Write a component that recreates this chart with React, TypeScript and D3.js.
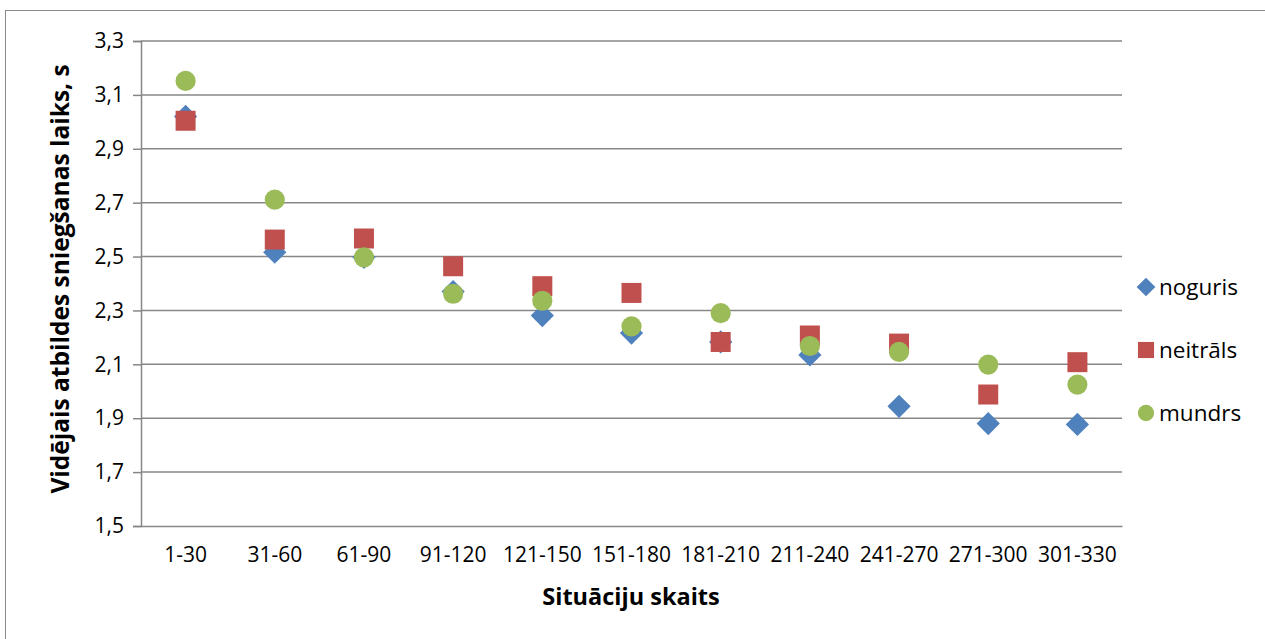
import * as d3 from 'd3';
import { useEffect, useRef } from 'react';

const categories = ['1-30', '31-60', '61-90', '91-120', '121-150', '151-180', '181-210', '211-240', '241-270', '271-300', '301-330'];
const noguris = [3.02, 2.516, 2.497, 2.37, 2.281, 2.216, 2.183, 2.135, 1.944, 1.88, 1.877];
const neitrals = [3.004, 2.563, 2.567, 2.464, 2.39, 2.365, 2.183, 2.207, 2.177, 1.988, 2.108];
const mundrs = [3.152, 2.711, 2.497, 2.362, 2.336, 2.241, 2.29, 2.168, 2.146, 2.099, 2.025];
const yTicks = [1.5, 1.7, 1.9, 2.1, 2.3, 2.5, 2.7, 2.9, 3.1, 3.3];

const series = [
  { name: 'noguris', values: noguris, color: '#4F81BD', shape: 'diamond' },
  { name: 'neitrāls', values: neitrals, color: '#C0504D', shape: 'square' },
  { name: 'mundrs', values: mundrs, color: '#9BBB59', shape: 'circle' },
];

const FONT = "'Open Sans', 'Noto Sans', sans-serif";

export default function App() {
  const ref = useRef<SVGSVGElement>(null);

  useEffect(() => {
    if (!ref.current) return;
    const width = 1265;
    const height = 639;
    const margin = { top: 41, right: 143, bottom: 113, left: 141 };

    const svg = d3.select(ref.current);
    svg.selectAll('*').remove();

    svg.append('rect')
      .attr('width', width).attr('height', height).attr('fill', '#fff');

    // outer chart frame
    svg.append('rect')
      .attr('x', 5.5).attr('y', 10.5)
      .attr('width', 1300).attr('height', 700)
      .attr('fill', 'none').attr('stroke', '#898989').attr('stroke-width', 1);

    const x = d3.scaleBand()
      .domain(categories)
      .range([margin.left, width - margin.right]);

    const y = d3.scaleLinear()
      .domain([1.5, 3.3])
      .range([height - margin.bottom, margin.top]);

    // gridlines
    svg.append('g')
      .selectAll('line')
      .data(yTicks.slice(1))
      .join('line')
      .attr('x1', margin.left)
      .attr('x2', width - margin.right)
      .attr('y1', d => y(d))
      .attr('y2', d => y(d))
      .attr('stroke', '#878787')
      .attr('stroke-width', 1.5);

    // y axis
    const yAxis = svg.append('g')
      .attr('transform', `translate(${margin.left},0)`)
      .call(d3.axisLeft(y).tickValues(yTicks).tickSize(8).tickPadding(9)
        .tickFormat(d => d3.format('.1f')(d as number).replace('.', ',')));
    yAxis.select('.domain').attr('stroke', '#878787').attr('stroke-width', 1.5);
    yAxis.selectAll('.tick line').attr('stroke', '#878787').attr('stroke-width', 1.5);
    yAxis.selectAll('text')
      .attr('font-family', FONT).attr('font-size', 21).attr('fill', '#000');

    // x axis
    const xAxis = svg.append('g')
      .attr('transform', `translate(0,${y(1.5)})`)
      .call(d3.axisBottom(x).tickSize(0).tickPadding(21));
    xAxis.select('.domain').attr('stroke', '#878787').attr('stroke-width', 1.5);
    xAxis.selectAll('text')
      .attr('font-family', FONT).attr('font-size', 21).attr('fill', '#000');

    // axis titles
    svg.append('text')
      .attr('transform', `translate(69,279) rotate(-90)`)
      .attr('text-anchor', 'middle')
      .attr('font-family', FONT).attr('font-size', 24.5).attr('font-weight', 'bold')
      .text('Vidējais atbildes sniegšanas laiks, s');

    svg.append('text')
      .attr('x', 631)
      .attr('y', 605)
      .attr('text-anchor', 'middle')
      .attr('font-family', FONT).attr('font-size', 23.5).attr('font-weight', 'bold')
      .text('Situāciju skaits');

    const symbolPath = (shape: string, scale: number) => {
      if (shape === 'circle') return d3.symbol(d3.symbolCircle, 320 * scale)();
      if (shape === 'square') return d3.symbol(d3.symbolSquare, 400 * scale)();
      return d3.symbol(d3.symbolSquare, 270 * scale)();
    };

    const cx = (c: string) => (x(c) || 0) + x.bandwidth() / 2;

    series.forEach(s => {
      svg.append('g')
        .selectAll('path')
        .data(s.values)
        .join('path')
        .attr('d', symbolPath(s.shape, 1))
        .attr('transform', (d, i) =>
          `translate(${cx(categories[i])},${y(d)})` + (s.shape === 'diamond' ? ' rotate(45)' : ''))
        .attr('fill', s.color);
    });

    // legend
    const legend = svg.append('g');
    series.forEach((s, i) => {
      const ly = 287 + i * 63;
      legend.append('path')
        .attr('d', symbolPath(s.shape, 0.65))
        .attr('transform', `translate(1146,${ly})` + (s.shape === 'diamond' ? ' rotate(45)' : ''))
        .attr('fill', s.color);
      legend.append('text')
        .attr('x', 1159)
        .attr('y', ly)
        .attr('dy', '0.35em')
        .attr('font-family', FONT).attr('font-size', 22.5)
        .text(s.name);
    });
  }, []);

  return (
    <div style={{ position: 'absolute', left: 0, top: 0 }}>
      <svg ref={ref} width={1265} height={639} style={{ display: 'block' }} />
    </div>
  );
}
